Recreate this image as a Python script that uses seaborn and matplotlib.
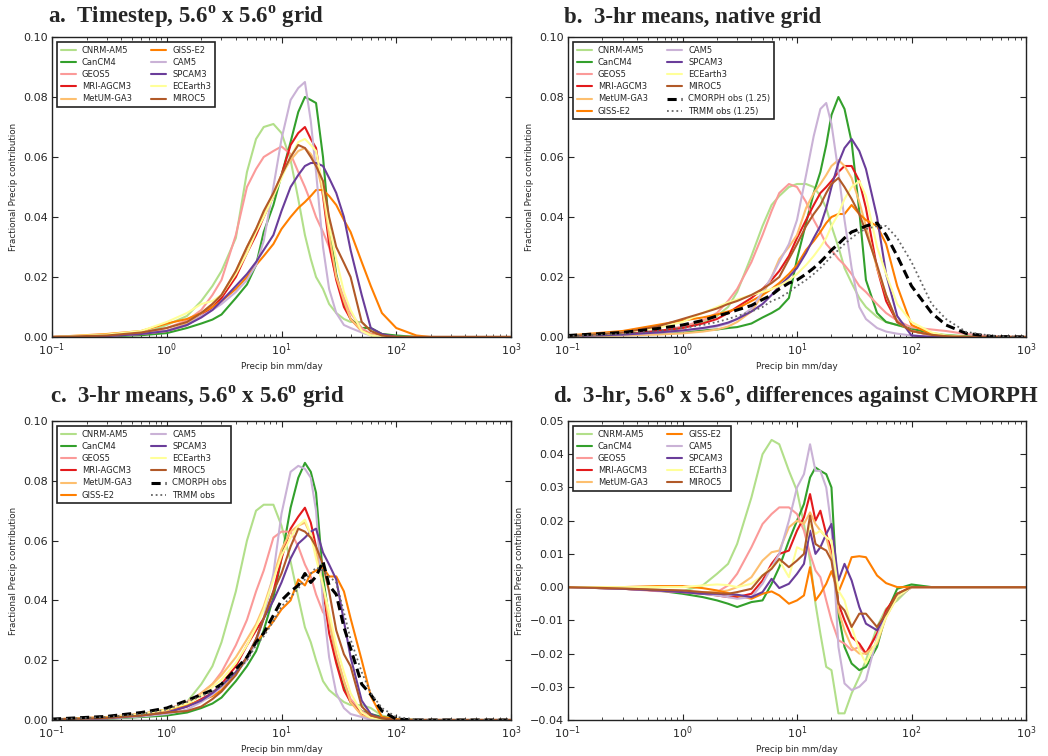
import matplotlib
matplotlib.use("Agg")
import matplotlib.pyplot as plt
import seaborn as sns

# ---------------- data ----------------
X = [0.1, 0.3, 0.6, 1, 1.5, 2, 2.5, 3, 4, 5, 6, 7, 8.5, 10, 12, 14, 16, 18, 20, 23,
     26, 30, 35, 40, 50, 60, 75, 100, 150, 200, 300, 500, 1000]
XD = [0.1, 0.3, 0.6, 1, 1.5, 2, 2.5, 3, 4, 5, 6, 7, 8.5, 10, 11.5, 13, 14.5, 16, 18, 20,
      23, 26, 30, 35, 40, 50, 60, 75, 100, 150, 1000]

MODELS = ["CNRM-AM5", "CanCM4", "GEOS5", "MRI-AGCM3", "MetUM-GA3",
          "GISS-E2", "CAM5", "SPCAM3", "ECEarth3", "MIROC5"]
COLORS = ["#b2df8a", "#33a02c", "#fb9a99", "#e31a1c", "#fdbf6f",
          "#ff7f00", "#cab2d6", "#6a3d9a", "#ffff99", "#b15928"]

# panel a: timestep, 5.6 deg grid
A_CNRM = [0, 0.0003, 0.001, 0.004, 0.007, 0.012, 0.017, 0.022, 0.033, 0.055,
          0.066, 0.070, 0.071, 0.068, 0.059, 0.046, 0.034, 0.026, 0.020, 0.016,
          0.011, 0.008, 0.006, 0.005, 0.005, 0.002, 0.001, 0.0003, 0, 0, 0, 0, 0]
A_CAN = [0, 0.0002, 0.0006, 0.0013, 0.003, 0.0045, 0.0058, 0.0075, 0.013, 0.0175,
         0.024, 0.035, 0.044, 0.054, 0.065, 0.075, 0.080, 0.079, 0.078, 0.060,
         0.037, 0.021, 0.011, 0.006, 0.003, 0.003, 0.001, 0.0005, 0, 0, 0, 0, 0]
A_GEOS = [0, 0.0004, 0.0012, 0.003, 0.0055, 0.009, 0.014, 0.019, 0.034, 0.050,
          0.056, 0.060, 0.062, 0.0635, 0.061, 0.055, 0.050, 0.045, 0.040, 0.035,
          0.030, 0.020, 0.013, 0.008, 0.003, 0.001, 0.0005, 0, 0, 0, 0, 0, 0]
A_MRI = [0, 0.0004, 0.001, 0.002, 0.004, 0.007, 0.010, 0.013, 0.020, 0.028,
         0.034, 0.040, 0.047, 0.054, 0.064, 0.068, 0.070, 0.066, 0.063, 0.047,
         0.031, 0.019, 0.010, 0.006, 0.002, 0.001, 0.0003, 0, 0, 0, 0, 0, 0]
A_METUM = [0, 0.0004, 0.0012, 0.002, 0.0045, 0.008, 0.011, 0.014, 0.022, 0.030,
           0.036, 0.041, 0.048, 0.054, 0.059, 0.062, 0.063, 0.061, 0.058, 0.048,
           0.034, 0.020, 0.012, 0.006, 0.002, 0.001, 0, 0, 0, 0, 0, 0, 0]
A_GISS = [0, 0.001, 0.002, 0.0045, 0.006, 0.008, 0.010, 0.012, 0.016, 0.020,
          0.024, 0.027, 0.031, 0.036, 0.040, 0.043, 0.045, 0.047, 0.049, 0.049,
          0.047, 0.044, 0.039, 0.035, 0.025, 0.017, 0.008, 0.003, 0.0005, 0, 0, 0, 0]
A_CAM = [0, 0.0003, 0.001, 0.002, 0.004, 0.007, 0.009, 0.011, 0.015, 0.019,
         0.024, 0.032, 0.050, 0.066, 0.079, 0.083, 0.085, 0.072, 0.055, 0.030,
         0.016, 0.008, 0.004, 0.003, 0.0015, 0.0005, 0, 0, 0, 0, 0, 0, 0]
A_SPCAM = [0, 0.0003, 0.001, 0.002, 0.004, 0.0065, 0.009, 0.012, 0.017, 0.021,
           0.025, 0.029, 0.034, 0.042, 0.050, 0.054, 0.057, 0.058, 0.058, 0.057,
           0.053, 0.048, 0.040, 0.029, 0.014, 0.003, 0.001, 0, 0, 0, 0, 0, 0]
A_EC = [0, 0.0008, 0.002, 0.005, 0.008, 0.011, 0.012, 0.014, 0.021, 0.028,
        0.035, 0.040, 0.047, 0.053, 0.060, 0.065, 0.066, 0.064, 0.062, 0.050,
        0.037, 0.026, 0.015, 0.009, 0.002, 0.0005, 0, 0, 0, 0, 0, 0, 0]
A_MIROC = [0, 0.0005, 0.0015, 0.003, 0.005, 0.008, 0.011, 0.014, 0.022, 0.030,
           0.036, 0.042, 0.048, 0.054, 0.060, 0.064, 0.063, 0.060, 0.057, 0.052,
           0.040, 0.030, 0.0247, 0.020, 0.005, 0.002, 0.0005, 0, 0, 0, 0, 0, 0]

# panel b: 3-hr means, native grid
B_CNRM = [0.0003, 0.0008, 0.0015, 0.003, 0.005, 0.007, 0.010, 0.015, 0.027, 0.037,
          0.044, 0.047, 0.050, 0.051, 0.051, 0.050, 0.047, 0.043, 0.037, 0.030,
          0.023, 0.018, 0.013, 0.010, 0.0067, 0.005, 0.004, 0.0025, 0.0013, 0.0007, 0.0003, 0, 0]
B_CAN = [0.0003, 0.0007, 0.0012, 0.0018, 0.0022, 0.0025, 0.003, 0.0033, 0.0045, 0.0065,
         0.008, 0.0095, 0.013, 0.026, 0.038, 0.048, 0.055, 0.064, 0.074, 0.080,
         0.076, 0.065, 0.042, 0.019, 0.008, 0.005, 0.004, 0.0028, 0.0012, 0.0005, 0.0002, 0, 0]
B_GEOS = [0.0002, 0.0008, 0.0018, 0.0035, 0.0055, 0.008, 0.012, 0.016, 0.025, 0.034,
          0.042, 0.048, 0.051, 0.050, 0.045, 0.039, 0.035, 0.031, 0.029, 0.026,
          0.024, 0.021, 0.017, 0.015, 0.011, 0.008, 0.0055, 0.0032, 0.0025, 0.002, 0.001, 0.0002, 0]
B_MRI = [0.0003, 0.001, 0.002, 0.003, 0.0045, 0.006, 0.008, 0.010, 0.013, 0.016,
         0.019, 0.022, 0.027, 0.033, 0.039, 0.044, 0.048, 0.050, 0.052, 0.055,
         0.057, 0.057, 0.052, 0.043, 0.023, 0.012, 0.005, 0.002, 0.0006, 0.0002, 0, 0, 0]
B_METUM = [0.0002, 0.0005, 0.0008, 0.0012, 0.0018, 0.0025, 0.0035, 0.005, 0.0085, 0.014,
           0.020, 0.026, 0.030, 0.034, 0.043, 0.048, 0.051, 0.054, 0.057, 0.059,
           0.057, 0.053, 0.045, 0.037, 0.023, 0.014, 0.005, 0.002, 0.0006, 0.0002, 0, 0, 0]
B_GISS = [0.0005, 0.002, 0.004, 0.0055, 0.0065, 0.0075, 0.0085, 0.0095, 0.012, 0.014,
          0.016, 0.018, 0.021, 0.024, 0.029, 0.032, 0.035, 0.038, 0.040, 0.041,
          0.041, 0.044, 0.041, 0.039, 0.037, 0.031, 0.017, 0.004, 0.001, 0.0003, 0, 0, 0]
B_CAM = [0.0003, 0.0008, 0.0014, 0.002, 0.0028, 0.0035, 0.0045, 0.006, 0.0095, 0.015,
         0.020, 0.025, 0.031, 0.039, 0.054, 0.067, 0.076, 0.078, 0.071, 0.055,
         0.039, 0.023, 0.010, 0.006, 0.003, 0.0018, 0.0011, 0.0005, 0.0002, 0, 0, 0, 0]
B_SPCAM = [0.0003, 0.0008, 0.0015, 0.0022, 0.003, 0.0038, 0.0048, 0.006, 0.0085, 0.011,
           0.014, 0.017, 0.020, 0.023, 0.028, 0.033, 0.037, 0.043, 0.050, 0.058,
           0.063, 0.066, 0.062, 0.056, 0.040, 0.021, 0.007, 0.0005, 0, 0, 0, 0, 0]
B_EC = [0.0003, 0.0015, 0.003, 0.005, 0.008, 0.010, 0.0115, 0.0125, 0.014, 0.015,
        0.016, 0.017, 0.019, 0.021, 0.024, 0.027, 0.030, 0.033, 0.037, 0.041,
        0.046, 0.050, 0.052, 0.047, 0.030, 0.021, 0.011, 0.005, 0.0015, 0.0005, 0, 0, 0]
B_MIROC = [0.0003, 0.0015, 0.0035, 0.006, 0.008, 0.0095, 0.011, 0.012, 0.014, 0.016,
           0.018, 0.020, 0.026, 0.031, 0.037, 0.041, 0.044, 0.048, 0.051, 0.053,
           0.050, 0.046, 0.041, 0.035, 0.024, 0.014, 0.005, 0.002, 0.0007, 0.0003, 0, 0, 0]
B_CMORPH = [0.0005, 0.0015, 0.0028, 0.004, 0.0055, 0.007, 0.008, 0.009, 0.0105, 0.0125,
            0.014, 0.016, 0.018, 0.019, 0.021, 0.023, 0.025, 0.027, 0.029, 0.031,
            0.033, 0.035, 0.036, 0.037, 0.038, 0.034, 0.027, 0.017, 0.008, 0.004, 0.0012, 0.0002, 0]
B_TRMM = [0.0003, 0.001, 0.002, 0.003, 0.004, 0.005, 0.006, 0.007, 0.0085, 0.010,
          0.012, 0.013, 0.015, 0.017, 0.019, 0.021, 0.023, 0.025, 0.027, 0.029,
          0.031, 0.033, 0.035, 0.036, 0.037, 0.037, 0.033, 0.025, 0.011, 0.006, 0.0017, 0.0004, 0]

# panel c: 3-hr means, 5.6 deg grid
C_CNRM = [0.0002, 0.0008, 0.002, 0.003, 0.006, 0.012, 0.018, 0.026, 0.043, 0.060,
          0.070, 0.072, 0.072, 0.065, 0.053, 0.041, 0.031, 0.026, 0.020, 0.013,
          0.010, 0.008, 0.006, 0.005, 0.005, 0.004, 0.0015, 0.0003, 0, 0, 0, 0, 0]
C_CAN = [0.0001, 0.0004, 0.001, 0.0015, 0.0025, 0.004, 0.0055, 0.0075, 0.013, 0.018,
         0.023, 0.030, 0.041, 0.054, 0.071, 0.081, 0.086, 0.083, 0.076, 0.048,
         0.034, 0.021, 0.011, 0.006, 0.003, 0.002, 0.001, 0.0003, 0, 0, 0, 0, 0]
C_GEOS = [0.0002, 0.0008, 0.002, 0.0035, 0.006, 0.009, 0.012, 0.016, 0.025, 0.0335,
          0.043, 0.050, 0.061, 0.063, 0.063, 0.058, 0.052, 0.048, 0.042, 0.036,
          0.034, 0.022, 0.013, 0.007, 0.003, 0.001, 0, 0, 0, 0, 0, 0, 0]
C_MRI = [0.0001, 0.0006, 0.0015, 0.0025, 0.0045, 0.007, 0.009, 0.012, 0.018, 0.025,
         0.030, 0.034, 0.043, 0.054, 0.064, 0.068, 0.071, 0.066, 0.058, 0.044,
         0.029, 0.019, 0.010, 0.006, 0.002, 0.001, 0, 0, 0, 0, 0, 0, 0]
C_METUM = [0.0001, 0.0006, 0.0015, 0.003, 0.0055, 0.009, 0.012, 0.015, 0.021, 0.027,
           0.032, 0.038, 0.048, 0.057, 0.063, 0.065, 0.066, 0.062, 0.057, 0.045,
           0.033, 0.022, 0.013, 0.006, 0.0015, 0.0005, 0, 0, 0, 0, 0, 0, 0]
C_GISS = [0.0002, 0.001, 0.002, 0.0035, 0.005, 0.0065, 0.008, 0.010, 0.016, 0.021,
          0.026, 0.029, 0.033, 0.037, 0.040, 0.047, 0.045, 0.049, 0.050, 0.051,
          0.048, 0.048, 0.043, 0.034, 0.020, 0.008, 0.001, 0.0003, 0, 0, 0, 0, 0]
C_CAM = [0.0001, 0.0005, 0.0012, 0.002, 0.0035, 0.006, 0.0085, 0.011, 0.016, 0.020,
         0.026, 0.034, 0.049, 0.069, 0.083, 0.085, 0.084, 0.081, 0.070, 0.039,
         0.021, 0.009, 0.004, 0.002, 0.001, 0, 0, 0, 0, 0, 0, 0, 0]
C_SPCAM = [0.0001, 0.0006, 0.0015, 0.0025, 0.0045, 0.0065, 0.009, 0.0115, 0.016, 0.021,
           0.027, 0.034, 0.040, 0.046, 0.054, 0.059, 0.061, 0.063, 0.064, 0.056,
           0.052, 0.047, 0.033, 0.021, 0.0065, 0.002, 0.0005, 0, 0, 0, 0, 0, 0]
C_EC = [0.0002, 0.0008, 0.002, 0.0035, 0.0055, 0.008, 0.011, 0.0135, 0.019, 0.025,
        0.031, 0.037, 0.047, 0.055, 0.061, 0.065, 0.067, 0.062, 0.054, 0.045,
        0.036, 0.025, 0.016, 0.009, 0.0025, 0.0008, 0, 0, 0, 0, 0, 0, 0]
C_MIROC = [0.0002, 0.0007, 0.0015, 0.0025, 0.003, 0.0045, 0.007, 0.0095, 0.015, 0.021,
           0.027, 0.034, 0.043, 0.049, 0.058, 0.064, 0.063, 0.061, 0.058, 0.052,
           0.043, 0.030, 0.022, 0.018, 0.0045, 0.0015, 0.0005, 0, 0, 0, 0, 0, 0]
C_CMORPH = [0.0003, 0.0012, 0.0025, 0.004, 0.0065, 0.0085, 0.010, 0.012, 0.017, 0.021,
            0.026, 0.029, 0.035, 0.040, 0.043, 0.045, 0.049, 0.046, 0.048, 0.053,
            0.045, 0.042, 0.031, 0.024, 0.012, 0.0085, 0.003, 0.0003, 0, 0, 0, 0, 0]
C_TRMM = [0.0002, 0.001, 0.002, 0.0035, 0.006, 0.008, 0.0095, 0.0115, 0.016, 0.020,
          0.025, 0.028, 0.033, 0.038, 0.041, 0.044, 0.047, 0.049, 0.051, 0.050,
          0.048, 0.046, 0.036, 0.027, 0.016, 0.009, 0.004, 0.001, 0.0002, 0, 0, 0, 0]

# panel d: differences against CMORPH
D_CNRM = [0, -0.0003, -0.0008, -0.0012, 0.0005, 0.004, 0.007, 0.013, 0.027, 0.040,
          0.0443, 0.043, 0.035, 0.029, 0.019, 0.008, -0.005, -0.014, -0.024, -0.025,
          -0.038, -0.038, -0.032, -0.027, -0.022, -0.012, -0.0065, -0.004, 0.0003, 0, 0]
D_CAN = [0, -0.0005, -0.001, -0.002, -0.003, -0.004, -0.005, -0.006, -0.0045, -0.004,
         0.001, 0.006, 0.014, 0.020, 0.025, 0.033, 0.036, 0.035, 0.034, 0.030,
         -0.008, -0.018, -0.023, -0.025, -0.024, -0.018, -0.008, -0.0005, 0.0008, 0, 0]
D_GEOS = [0, -0.0005, -0.0012, -0.0015, -0.002, -0.0015, 0.0005, 0.004, 0.012, 0.019,
          0.022, 0.024, 0.024, 0.022, 0.017, 0.010, 0.005, 0.003, -0.004, -0.010,
          -0.016, -0.017, -0.019, -0.018, -0.020, -0.014, -0.007, -0.003, 0, 0, 0]
D_MRI = [0, -0.0005, -0.001, -0.0015, -0.002, -0.0025, -0.003, -0.003, -0.002, 0.002,
         0.007, 0.010, 0.011, 0.017, 0.021, 0.028, 0.020, 0.023, 0.016, 0.011,
         -0.005, -0.010, -0.015, -0.017, -0.020, -0.014, -0.007, -0.002, 0, 0, 0]
D_METUM = [0, -0.0004, -0.0008, -0.0012, -0.0015, -0.0015, -0.001, 0, 0.003, 0.008,
           0.0105, 0.011, 0.018, 0.020, 0.019, 0.0225, 0.019, 0.017, 0.015, 0.009,
           -0.007, -0.013, -0.018, -0.020, -0.020, -0.017, -0.009, -0.003, 0, 0, 0]
D_GISS = [0, 0, 0.0003, 0.0003, -0.0003, -0.001, -0.0018, -0.0025, -0.0035, -0.002,
          -0.0013, -0.0025, -0.005, -0.004, -0.0025, 0.006, -0.004, -0.002, 0.001, 0.0048,
          -0.0015, 0.003, 0.009, 0.0093, 0.009, 0.0035, 0.0012, 0, 0, 0, 0]
D_CAM = [0, -0.0005, -0.001, -0.0015, -0.002, -0.0025, -0.003, -0.0035, -0.003, 0.001,
         0.006, 0.010, 0.020, 0.030, 0.034, 0.043, 0.035, 0.035, 0.030, 0.018,
         -0.018, -0.029, -0.031, -0.030, -0.028, -0.015, -0.008, -0.003, 0, 0, 0]
D_SPCAM = [0, -0.0005, -0.001, -0.0015, -0.002, -0.002, -0.0022, -0.0023, -0.003, -0.0015,
           0.0025, -0.0003, 0.001, 0.004, 0.007, 0.017, 0.010, 0.012, 0.016, 0.019,
           0.002, 0.007, 0.002, -0.006, -0.011, -0.013, -0.008, -0.003, 0, 0, 0]
D_EC = [0, 0, 0, 0, 0.0005, 0.0008, 0.0006, 0, 0.001, 0.0035,
        0.006, 0.008, 0.003, 0.012, 0.011, 0.0188, 0.016, 0.017, 0.015, 0.014,
        -0.001, -0.004, -0.012, -0.019, -0.023, -0.016, -0.009, -0.003, 0, 0, 0]
D_MIROC = [0, -0.0004, -0.0008, -0.001, -0.0015, -0.0018, -0.002, -0.0015, -0.0005, 0.0035,
           0.0055, 0.0085, 0.006, 0.008, 0.010, 0.0215, 0.013, 0.012, 0.011, 0.008,
           -0.005, -0.007, -0.012, -0.008, -0.008, -0.012, -0.008, -0.002, 0, 0, 0]

PANEL_A = [A_CNRM, A_CAN, A_GEOS, A_MRI, A_METUM, A_GISS, A_CAM, A_SPCAM, A_EC, A_MIROC]
PANEL_B = [B_CNRM, B_CAN, B_GEOS, B_MRI, B_METUM, B_GISS, B_CAM, B_SPCAM, B_EC, B_MIROC]
PANEL_C = [C_CNRM, C_CAN, C_GEOS, C_MRI, C_METUM, C_GISS, C_CAM, C_SPCAM, C_EC, C_MIROC]
PANEL_D = [D_CNRM, D_CAN, D_GEOS, D_MRI, D_METUM, D_GISS, D_CAM, D_SPCAM, D_EC, D_MIROC]

TITLES = ["a.  Timestep, 5.6$^{\\mathbf{o}}$ x 5.6$^{\\mathbf{o}}$ grid",
          "b.  3-hr means, native grid",
          "c.  3-hr means, 5.6$^{\\mathbf{o}}$ x 5.6$^{\\mathbf{o}}$ grid",
          "d.  3-hr, 5.6$^{\\mathbf{o}}$ x 5.6$^{\\mathbf{o}}$, differences against CMORPH"]

# ---------------- style ----------------
sns.set_style("ticks")
plt.rcParams.update({
    "font.family": ["DejaVu Sans"],
    "mathtext.fontset": "custom",
    "mathtext.bf": "Liberation Serif:bold",
    "mathtext.rm": "Liberation Serif:bold",
    "xtick.direction": "in", "ytick.direction": "in",
    "xtick.top": True, "ytick.right": True,
    "axes.edgecolor": "#222222", "axes.linewidth": 1.0,
})

W, H = 1048, 756
fig = plt.figure(figsize=(W / 100, H / 100), dpi=100)


def add_ax(l, t, r, b):
    return fig.add_axes([l / W, 1 - b / H, (r - l) / W, (b - t) / H])


axes = [add_ax(52, 37, 511, 337), add_ax(568, 37, 1026, 337),
        add_ax(52, 421, 511, 720), add_ax(568, 421, 1026, 720)]

MODEL_LW = 1.5


def draw_models(ax, xs, series):
    for name, col, vals in zip(MODELS, COLORS, series):
        sns.lineplot(x=xs, y=vals, ax=ax, color=col, linewidth=MODEL_LW,
                     label=name, estimator=None, sort=False, legend=False)


def draw_obs(ax, cm, tr, cm_lab, tr_lab):
    sns.lineplot(x=X, y=cm, ax=ax, color="black", linewidth=2.2,
                 linestyle=(0, (3.0, 1.6)), label=cm_lab, estimator=None,
                 sort=False, legend=False)
    sns.lineplot(x=X, y=tr, ax=ax, color="#666666", linewidth=1.3,
                 linestyle=(0, (1.0, 1.6)), label=tr_lab, estimator=None,
                 sort=False, legend=False)


draw_models(axes[0], X, PANEL_A)
draw_models(axes[1], X, PANEL_B)
draw_obs(axes[1], B_CMORPH, B_TRMM, "CMORPH obs (1.25)", "TRMM obs (1.25)")
draw_models(axes[2], X, PANEL_C)
draw_obs(axes[2], C_CMORPH, C_TRMM, "CMORPH obs", "TRMM obs")
draw_models(axes[3], XD, PANEL_D)

for i, ax in enumerate(axes):
    ax.set_xscale("log")
    ax.set_xlim(0.1, 1000)
    if i < 3:
        ax.set_ylim(0, 0.10)
        ax.set_yticks([0, 0.02, 0.04, 0.06, 0.08, 0.10])
    else:
        ax.set_ylim(-0.04, 0.05)
        ax.set_yticks([-0.04, -0.03, -0.02, -0.01, 0, 0.01, 0.02, 0.03, 0.04, 0.05])
    ax.yaxis.set_major_formatter(
        matplotlib.ticker.FuncFormatter(lambda v, p: ("%.2f" % v).replace("-", "\u2212")))
    ax.tick_params(which="major", length=4.5, width=0.8, labelsize=8, pad=3,
                   top=True, right=True, direction="in")
    ax.tick_params(which="minor", length=2.2, width=0.6, top=True, direction="in")
    ax.tick_params(axis="y", which="minor", left=False, right=False)
    ax.set_xlabel("Precip bin mm/day", fontsize=6.3, labelpad=3)
    ax.set_ylabel("Fractional Precip contribution", fontsize=6.3, labelpad=4)
    for s in ax.spines.values():
        s.set_visible(True)
    leg = ax.legend(loc="upper left", ncol=2, fontsize=6, frameon=True,
                    fancybox=False, framealpha=1, edgecolor="#222222",
                    borderaxespad=0.6, labelspacing=0.38, handlelength=1.8,
                    handletextpad=0.75, columnspacing=2.3, borderpad=0.45)
    leg.get_frame().set_linewidth(1.2)

title_pos = [(48, 17), (564, 17), (50, 397), (553, 397)]
for (tx, ty), t in zip(title_pos, TITLES):
    fig.text(tx / W, 1 - ty / H, t, fontsize=16.5, fontweight="bold",
             family="Liberation Serif", ha="left", va="center")

fig.savefig("out.png", dpi=100)
